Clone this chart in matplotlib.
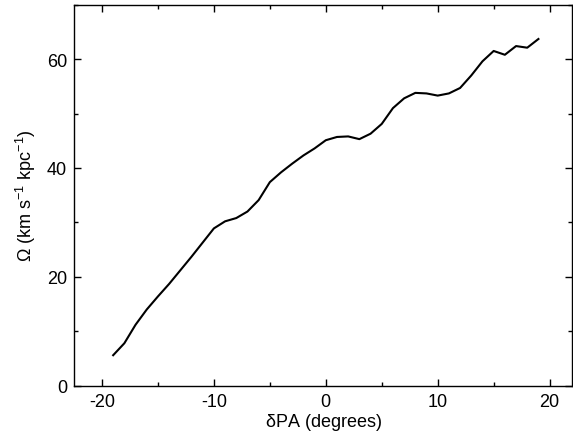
import matplotlib
matplotlib.use("Agg")
import matplotlib.pyplot as plt
from matplotlib.ticker import MultipleLocator

plt.rcParams['font.family'] = ['Liberation Sans', 'DejaVu Sans']
plt.rcParams['mathtext.fontset'] = 'custom'
plt.rcParams['mathtext.rm'] = 'Liberation Sans'
plt.rcParams['mathtext.it'] = 'Liberation Sans:italic'
plt.rcParams['mathtext.default'] = 'regular'
plt.rcParams['axes.unicode_minus'] = False

delta_pa = list(range(-19, 20))
omega = [5.6, 7.8, 11.2, 14.0, 16.4, 18.7, 21.2, 23.7, 26.3, 28.9,
         30.2, 30.8, 32.0, 34.1, 37.4, 39.2, 40.8, 42.3, 43.6, 45.1,
         45.7, 45.8, 45.3, 46.3, 48.1, 51.0, 52.8, 53.8, 53.7, 53.3,
         53.7, 54.7, 57.0, 59.6, 61.5, 60.8, 62.4, 62.1, 63.7]

fig = plt.figure(figsize=(5.73, 4.35), dpi=100)
ax = fig.add_axes([74/573, 48.3/435, (572-74)/573, (386.7-5.7)/435])
ax.plot(delta_pa, omega, color='black', lw=1.5)

ax.set_xlim(-22.5, 22)
ax.set_ylim(0, 70)
ax.xaxis.set_major_locator(MultipleLocator(10))
ax.xaxis.set_minor_locator(MultipleLocator(5))
ax.yaxis.set_major_locator(MultipleLocator(20))
ax.yaxis.set_minor_locator(MultipleLocator(10))
ax.tick_params(which='both', direction='in', top=True, right=True,
               labelsize=13, width=1)
ax.tick_params(which='major', length=5, pad=5)
ax.tick_params(which='minor', length=3)
for s in ax.spines.values():
    s.set_linewidth(1)

ax.set_xlabel(r'$\delta$PA (degrees)', fontsize=13, labelpad=1)
ax.set_ylabel(r'$\Omega$ (km s$^{-1}$ kpc$^{-1}$)', fontsize=13, labelpad=6)

fig.savefig('out.png', dpi=100)
